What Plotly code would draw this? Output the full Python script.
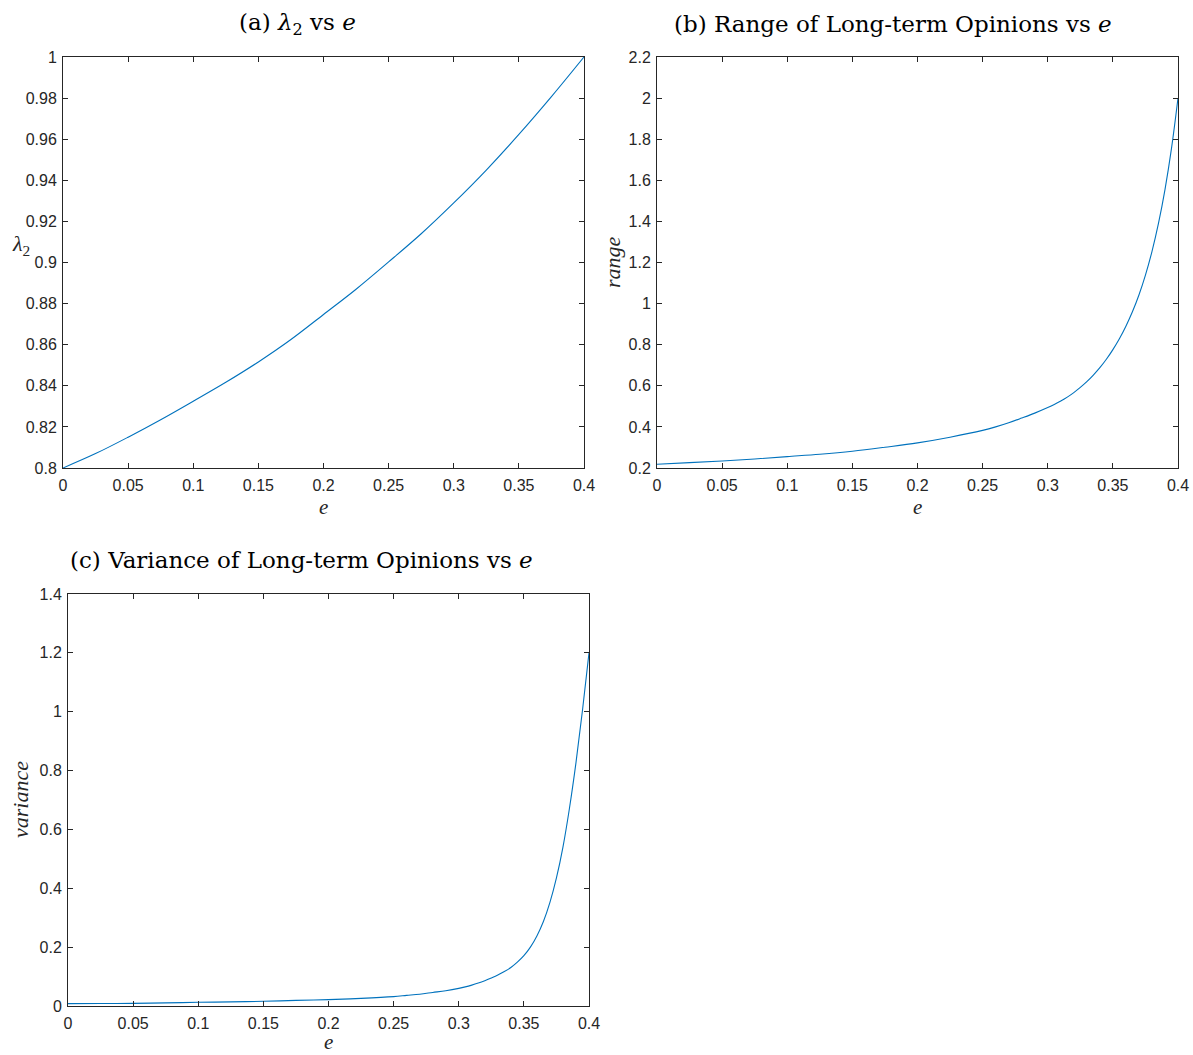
import plotly.graph_objects as go

W, H = 1193, 1055

# ---------------- data ----------------
e_lambda = [0, 0.025, 0.05, 0.075, 0.1, 0.125, 0.15, 0.175, 0.2, 0.225, 0.25,
            0.275, 0.3, 0.325, 0.35, 0.375, 0.4]
lambda2 = [0.800, 0.807, 0.815, 0.8235, 0.8325, 0.8417, 0.8516, 0.8625, 0.8747,
           0.887, 0.9003, 0.914, 0.929, 0.945, 0.9623, 0.9807, 1.000]

e_range = [0, 0.025, 0.05, 0.075, 0.1, 0.125, 0.15, 0.175, 0.2, 0.225, 0.25,
           0.26, 0.27, 0.28, 0.29, 0.3, 0.305, 0.31, 0.315, 0.32, 0.325, 0.33,
           0.335, 0.34, 0.345, 0.35, 0.355, 0.36, 0.365, 0.37, 0.375, 0.38,
           0.385, 0.39, 0.395, 0.4]
range_vals = [0.218, 0.226, 0.234, 0.244, 0.2555, 0.267, 0.2816, 0.301, 0.3224,
              0.350, 0.383, 0.400, 0.420, 0.443, 0.467, 0.494, 0.509, 0.526,
              0.545, 0.567, 0.592, 0.620, 0.652, 0.688, 0.729, 0.776, 0.829,
              0.890, 0.960, 1.042, 1.139, 1.253, 1.390, 1.555, 1.755, 2.0]

e_var = [0, 0.025, 0.05, 0.075, 0.1, 0.125, 0.15, 0.175, 0.2, 0.225, 0.25,
         0.26, 0.27, 0.28, 0.29, 0.3, 0.305, 0.31, 0.315, 0.32, 0.325, 0.33,
         0.335, 0.34, 0.345, 0.35, 0.355, 0.36, 0.365, 0.37, 0.375, 0.38,
         0.385, 0.39, 0.395, 0.4]
variance = [0.008, 0.0085, 0.009, 0.0105, 0.0126, 0.014, 0.016, 0.019, 0.0217,
            0.026, 0.032, 0.036, 0.040, 0.046, 0.052, 0.060, 0.065, 0.071,
            0.078, 0.086, 0.095, 0.105, 0.117, 0.131, 0.149, 0.171, 0.200,
            0.238, 0.287, 0.352, 0.435, 0.540, 0.672, 0.827, 1.005, 1.2]

x_ticks = [0, 0.05, 0.1, 0.15, 0.2, 0.25, 0.3, 0.35, 0.4]
x_ticktext = ["0", "0.05", "0.1", "0.15", "0.2", "0.25", "0.3", "0.35", "0.4"]
a_ticks = [0.8, 0.82, 0.84, 0.86, 0.88, 0.9, 0.92, 0.94, 0.96, 0.98, 1.0]
a_ticktext = ["0.8", "0.82", "0.84", "0.86", "0.88", "0.9", "0.92", "0.94", "0.96", "0.98", "1"]
b_ticks = [0.2, 0.4, 0.6, 0.8, 1.0, 1.2, 1.4, 1.6, 1.8, 2.0, 2.2]
b_ticktext = ["0.2", "0.4", "0.6", "0.8", "1", "1.2", "1.4", "1.6", "1.8", "2", "2.2"]
c_ticks = [0, 0.2, 0.4, 0.6, 0.8, 1.0, 1.2, 1.4]
c_ticktext = ["0", "0.2", "0.4", "0.6", "0.8", "1", "1.2", "1.4"]

titles = ["(a) <i>λ</i><sub>2</sub> vs <i>e</i>",
          "(b) Range of Long-term Opinions vs <i>e</i>",
          "(c) Variance of Long-term Opinions vs <i>e</i>"]

# ---------------- styling ----------------
LINE = "#0072BD"
AX = "#262626"
TICKFONT = dict(family="Liberation Sans, Arial, sans-serif", size=16, color=AX)
SERIF = "DejaVu Serif, Liberation Serif, serif"
SERIF2 = "Liberation Serif, Times New Roman, serif"


def px_x(p):
    return p / W


def px_y(p):
    return 1 - p / H


fig = go.Figure()
fig.add_trace(go.Scatter(x=e_lambda, y=lambda2, mode="lines", line_shape="spline",
                         line=dict(color=LINE, width=1.1), xaxis="x", yaxis="y",
                         showlegend=False))
fig.add_trace(go.Scatter(x=e_range, y=range_vals, mode="lines", line_shape="spline",
                         line=dict(color=LINE, width=1.1, smoothing=1.0),
                         xaxis="x2", yaxis="y2", showlegend=False))
fig.add_trace(go.Scatter(x=e_var, y=variance, mode="lines", line_shape="spline",
                         line=dict(color=LINE, width=1.1, smoothing=1.0),
                         xaxis="x3", yaxis="y3", showlegend=False))

common = dict(showline=True, linecolor=AX, linewidth=1, mirror="ticks",
              ticks="inside", ticklen=5, tickcolor=AX, tickwidth=1,
              showgrid=False, zeroline=False, tickfont=TICKFONT, automargin=False)

boxes = {  # pixel boxes of the three plot areas (left, right, top, bottom)
    "1": (63, 584, 57, 468),
    "2": (657, 1178, 57, 468),
    "3": (68, 589, 594, 1006),
}

layout = dict(width=W, height=H,
              margin=dict(l=0, r=0, t=0, b=0, pad=0, autoexpand=False),
              paper_bgcolor="white", plot_bgcolor="white", showlegend=False)

yinfo = {"1": (a_ticks, a_ticktext, [0.8, 1.0]),
         "2": (b_ticks, b_ticktext, [0.2, 2.2]),
         "3": (c_ticks, c_ticktext, [0, 1.4])}

for k, (l, r, t, b) in boxes.items():
    xs = "xaxis" if k == "1" else "xaxis" + k
    ys = "yaxis" if k == "1" else "yaxis" + k
    yt, ytt, yr = yinfo[k]
    layout[xs] = dict(domain=[px_x(l), px_x(r)], range=[0, 0.4],
                      tickvals=x_ticks, ticktext=x_ticktext, ticklabelstandoff=3,
                      anchor="y" if k == "1" else "y" + k, **common)
    layout[ys] = dict(domain=[px_y(b), px_y(t)], range=yr,
                      tickvals=yt, ticktext=ytt, ticklabelstandoff=2,
                      anchor="x" if k == "1" else "x" + k, **common)

ann = []
# titles
for txt, cx, cy in [(titles[0], 297, 24), (titles[1], 893, 24), (titles[2], 301, 560)]:
    ann.append(dict(text=txt, x=px_x(cx), y=px_y(cy), xref="paper", yref="paper",
                    showarrow=False, xanchor="center", yanchor="middle",
                    font=dict(family=SERIF, size=23, color="black")))
# x labels
for cx, cy in [(323, 507), (917, 507), (328, 1042)]:
    ann.append(dict(text="<i>e</i>", x=px_x(cx), y=px_y(cy), xref="paper", yref="paper",
                    showarrow=False, xanchor="center", yanchor="middle",
                    font=dict(family=SERIF2, size=21, color=AX)))
# y labels
ann.append(dict(text="<i>λ</i><sub>2</sub>", x=px_x(21), y=px_y(245), xref="paper",
                yref="paper", showarrow=False, xanchor="center", yanchor="middle",
                font=dict(family=SERIF2, size=22, color=AX)))
ann.append(dict(text="<i>range</i>", x=px_x(612), y=px_y(262), xref="paper",
                yref="paper", showarrow=False, xanchor="center", yanchor="middle",
                textangle=-90, font=dict(family=SERIF2, size=22, color=AX)))
ann.append(dict(text="<i>variance</i>", x=px_x(20), y=px_y(800), xref="paper",
                yref="paper", showarrow=False, xanchor="center", yanchor="middle",
                textangle=-90, font=dict(family=SERIF2, size=22, color=AX)))
layout["annotations"] = ann

fig.update_layout(**layout)
fig.write_html("out.html")
